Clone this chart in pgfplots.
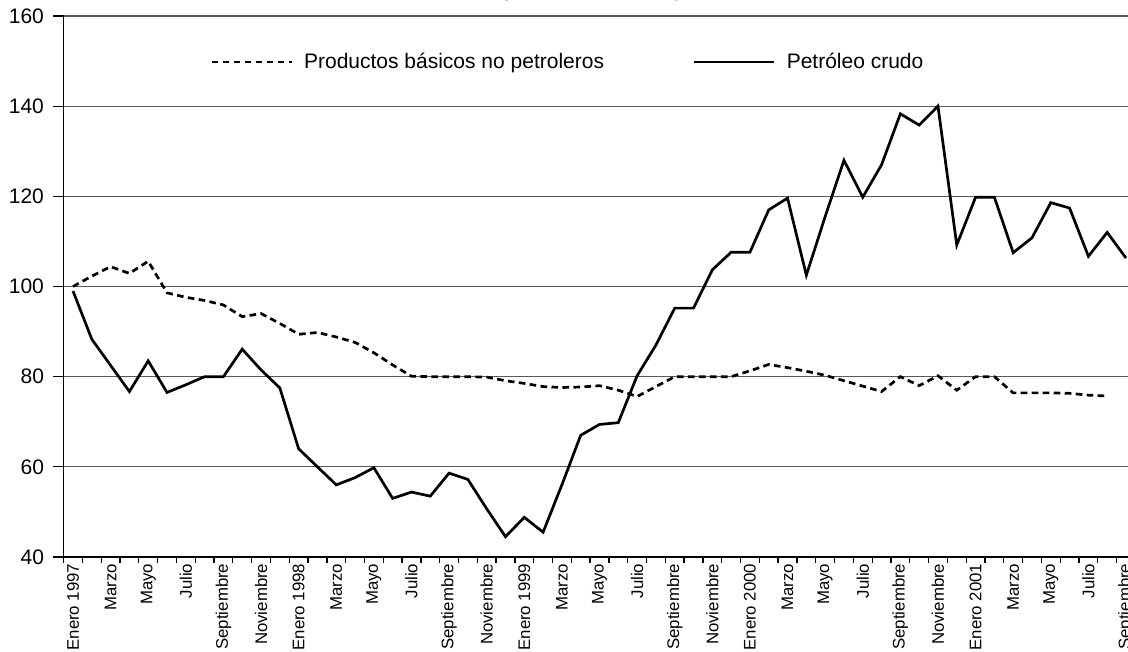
\documentclass[border=0pt]{standalone}
\usepackage{fontspec}
\setmainfont{Liberation Sans}
\usepackage{pgfplots}
\pgfplotsset{compat=1.18}
\usepackage{pgfplotstable}

\pgfplotstableread{
i v
0 100
1 102.3
2 104.4
3 102.9
4 105.6
5 98.6
6 97.6
7 96.9
8 95.9
9 93.3
10 94.0
11 91.8
12 89.4
13 89.8
14 88.8
15 87.6
16 85.3
17 82.6
18 80.1
19 80.0
20 80.0
21 80.0
22 79.9
23 79.1
24 78.5
25 77.8
26 77.6
27 77.7
28 78.0
29 77.0
30 75.6
31 77.8
32 80.0
33 80.0
34 80.0
35 80.0
36 81.3
37 82.7
38 82.0
39 81.2
40 80.3
41 79.1
42 77.9
43 76.7
44 80.0
45 78.0
46 80.2
47 77.0
48 80.0
49 80.0
50 76.4
51 76.4
52 76.4
53 76.3
54 75.9
55 75.7
}\nonoil

\pgfplotstableread{
i v
0 99.0
1 88.3
2 82.5
3 76.7
4 83.5
5 76.5
6 78.2
7 80.0
8 80.0
9 86.1
10 81.5
11 77.5
12 64.0
13 60.0
14 56.0
15 57.6
16 59.8
17 53.0
18 54.4
19 53.5
20 58.6
21 57.2
22 50.7
23 44.5
24 48.8
25 45.5
26 56.0
27 67.0
28 69.4
29 69.8
30 80.2
31 87.0
32 95.2
33 95.2
34 103.7
35 107.6
36 107.6
37 117.0
38 119.6
39 102.5
40 115.5
41 128.0
42 119.8
43 127.0
44 138.3
45 135.8
46 140.0
47 109.2
48 119.8
49 119.8
50 107.5
51 110.8
52 118.6
53 117.4
54 106.7
55 112.0
56 106.3
}\oil

\begin{document}
\begin{tikzpicture}
\begin{axis}[
  scale only axis,
  width=535.9pt, height=270.5pt,
  xmin=-0.5, xmax=56.5,
  ymin=40, ymax=160,
  axis lines*=left,
  axis line style={black, line width=0.65pt},
  ytick={40,60,...,160},
  ymajorgrids,
  grid style={black!65, line width=0.65pt},
  tick align=outside,
  major tick length=5.3pt,
  minor tick length=3pt,
  major x tick style={draw=none},
  minor x tick style={black, line width=0.65pt},
  ytick style={black, line width=0.65pt},
  xtick={0,2,...,56},
  minor xtick={-0.5,0.5,...,56.5},
  xticklabels={Enero 1997,Marzo,Mayo,Julio,Septiembre,Noviembre,
    Enero 1998,Marzo,Mayo,Julio,Septiembre,Noviembre,
    Enero 1999,Marzo,Mayo,Julio,Septiembre,Noviembre,
    Enero 2000,Marzo,Mayo,Julio,Septiembre,Noviembre,
    Enero 2001,Marzo,Mayo,Julio,Septiembre},
  xticklabel style={rotate=90, anchor=east, xshift=5.5pt, font=\fontsize{8.4pt}{10pt}\selectfont},
  yticklabel style={xshift=-1pt, font=\fontsize{10.5pt}{12pt}\selectfont},
  /pgf/number format/assume math mode=true,
  legend style={draw=none, fill=none, at={(rel axis cs:0.1366,0.915)}, anchor=west,
    font=\fontsize{10.5pt}{12pt}\selectfont, inner sep=0pt,
    /tikz/every odd column/.append style={column sep=3.5pt},
    /tikz/every even column/.append style={column sep=42.5pt}},
  legend columns=2,
  legend image code/.code={\draw[#1] (0pt,0pt) -- (40pt,0pt);},
]
\addplot[black, line width=1.35pt, dash pattern=on 3.3pt off 2.2pt] table[x=i,y=v] {\nonoil};
\addlegendentry{Productos básicos no petroleros}
\addplot[black, line width=1.35pt] table[x=i,y=v] {\oil};
\addlegendentry{Petróleo crudo}
\end{axis}
\node[anchor=base, font=\fontsize{10.5pt}{12pt}\selectfont] at (264pt,280pt) {(Índice 1995 = 100)};
\pgfresetboundingbox
\useasboundingbox (-31.8pt,-47.5pt) rectangle (532.2pt,278.5pt);
\end{tikzpicture}
\end{document}
